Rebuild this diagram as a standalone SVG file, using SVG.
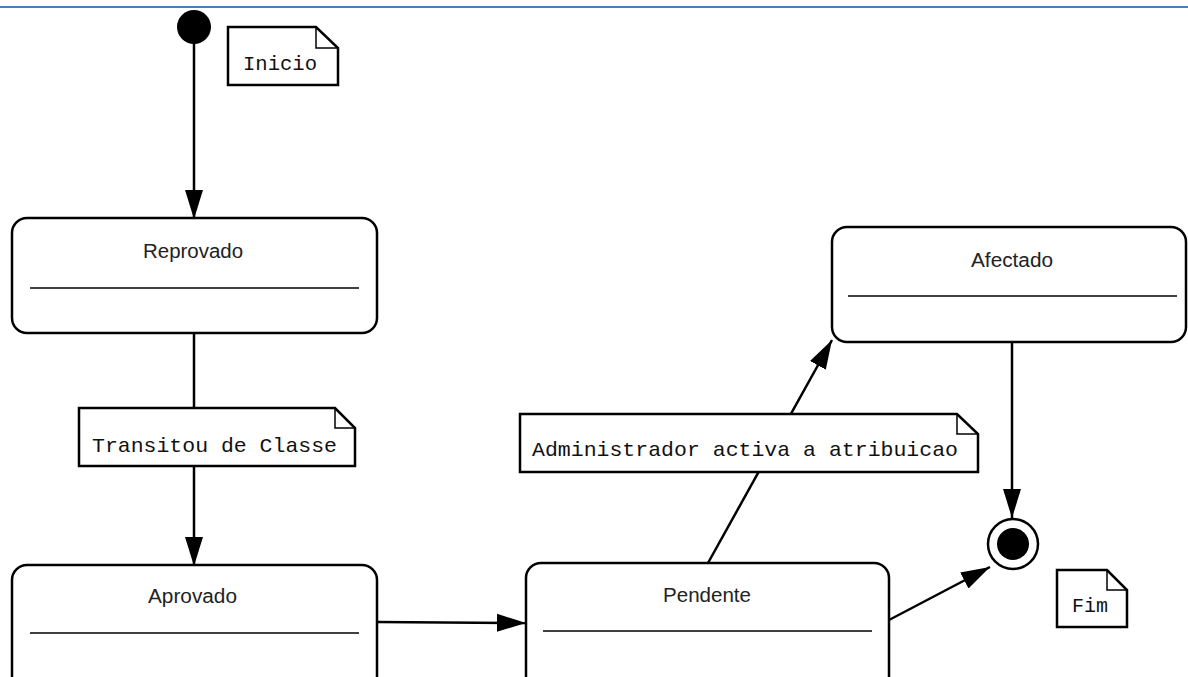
<svg xmlns="http://www.w3.org/2000/svg" width="1188" height="677" viewBox="0 0 1188 677">
<style>
.state{fill:#fff;stroke:#000;stroke-width:2.5}
.div{stroke:#000;stroke-width:1.5}
.title{font-family:"Liberation Sans",Arial,sans-serif;font-size:20px;fill:#222;text-anchor:start}
.note{fill:#fff;stroke:#000;stroke-width:2.5;stroke-linejoin:miter}
.fold{fill:none;stroke:#000;stroke-width:1.5}
.ntext{font-family:"Liberation Mono","Courier New",monospace;font-size:21px;fill:#111}
.conn{fill:none;stroke:#000;stroke-width:2.5}
</style>
<defs>
<marker id="arr" markerUnits="userSpaceOnUse" markerWidth="30" markerHeight="20" refX="29" refY="10" orient="auto">
<path d="M0,1 L29,10 L0,19 z" fill="#000"/>
</marker>
</defs>
<rect width="1188" height="677" fill="#fff"/>
<line x1="0" y1="7" x2="1188" y2="7" stroke="#4a7ebb" stroke-width="2"/>

<g id="connectors">
<line class="conn" x1="194" y1="40" x2="194" y2="219" marker-end="url(#arr)"/>
<line class="conn" x1="194" y1="333" x2="194" y2="566" marker-end="url(#arr)"/>
<line class="conn" x1="377" y1="622" x2="526" y2="623" marker-end="url(#arr)"/>
<line class="conn" x1="708" y1="563" x2="832" y2="340" marker-end="url(#arr)"/>
<line class="conn" x1="1012" y1="342" x2="1012" y2="518" marker-end="url(#arr)"/>
<line class="conn" x1="889" y1="620" x2="990" y2="567" marker-end="url(#arr)"/>
</g>

<g id="initial">
<circle cx="194" cy="27" r="17" fill="#000"/>
</g>

<g id="note-inicio">
<path class="note" d="M228,27 H316 L338,48 V85 H228 Z"/>
<path class="fold" d="M316,27 V48 H338"/>
<text class="ntext" x="243" y="70" textLength="74" lengthAdjust="spacingAndGlyphs">Inicio</text>
</g>

<g id="state-reprovado">
<rect class="state" x="12" y="218" width="365" height="115" rx="15" ry="15"/>
<line class="div" x1="30" y1="288" x2="359" y2="288"/>
<text class="title" x="143" y="258" textLength="100" lengthAdjust="spacingAndGlyphs">Reprovado</text>
</g>

<g id="note-transitou">
<path class="note" d="M79,408 H335 L355,428 V466 H79 Z"/>
<path class="fold" d="M335,408 V428 H355"/>
<text class="ntext" x="92" y="452" textLength="245" lengthAdjust="spacingAndGlyphs">Transitou de Classe</text>
</g>

<g id="state-aprovado">
<rect class="state" x="12" y="565" width="365" height="130" rx="15" ry="15"/>
<line class="div" x1="30" y1="633" x2="359" y2="633"/>
<text class="title" x="148" y="603" textLength="89" lengthAdjust="spacingAndGlyphs">Aprovado</text>
</g>

<g id="state-pendente">
<rect class="state" x="526" y="563" width="363" height="130" rx="15" ry="15"/>
<line class="div" x1="543" y1="631" x2="872" y2="631"/>
<text class="title" x="663" y="602" textLength="88" lengthAdjust="spacingAndGlyphs">Pendente</text>
</g>

<g id="note-admin">
<path class="note" d="M520,414 H957 L978,434 V472 H520 Z"/>
<path class="fold" d="M957,414 V434 H978"/>
<text class="ntext" x="532" y="456" textLength="426" lengthAdjust="spacingAndGlyphs">Administrador activa a atribuicao</text>
</g>

<g id="state-afectado">
<rect class="state" x="832" y="227" width="354" height="115" rx="15" ry="15"/>
<line class="div" x1="848" y1="296" x2="1177" y2="296"/>
<text class="title" x="971" y="267" textLength="82" lengthAdjust="spacingAndGlyphs">Afectado</text>
</g>

<g id="final">
<circle cx="1013" cy="544" r="25" fill="#fff" stroke="#000" stroke-width="2.5"/>
<circle cx="1013" cy="544" r="16" fill="#000"/>
</g>

<g id="note-fim">
<path class="note" d="M1057,570 H1107 L1127,590 V627 H1057 Z"/>
<path class="fold" d="M1107,570 V590 H1127"/>
<text class="ntext" x="1072" y="612" textLength="36" lengthAdjust="spacingAndGlyphs">Fim</text>
</g>
</svg>
